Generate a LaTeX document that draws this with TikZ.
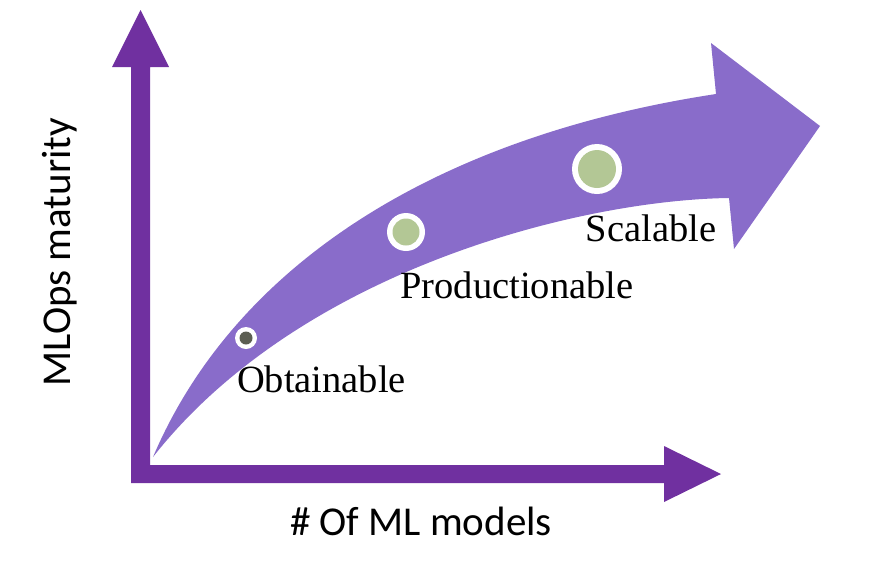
\documentclass[tikz,border=0pt]{standalone}
\usepackage{fontspec}
\setmainfont{Liberation Serif}
\newfontfamily\calib{Carlito}
\definecolor{axispurple}{HTML}{7030A0}
\definecolor{bandpurple}{HTML}{896CCA}
\definecolor{dotgreen}{HTML}{B3C795}
\definecolor{dotdark}{HTML}{5C5E52}
\begin{document}
\begin{tikzpicture}[x=1pt,y=-1pt,
  stagelabel/.style={inner sep=0pt, anchor=base, font=\fontsize{38.5}{40}\selectfont},
  axislabel/.style={inner sep=0pt, anchor=base, font=\calib\fontsize{41}{44}\selectfont},
  ring/.style={circle, fill=white, inner sep=0pt},
  core/.style={circle, inner sep=0pt}]
\useasboundingbox (0,0) rectangle (882,582);
% curved growth arrow
\fill[bandpurple] (153,457) .. controls (236,262) and (440,136) .. (716,94)
  -- (711,43) -- (820,126) -- (734,249) -- (729,198)
  .. controls (580,200) and (300,270) .. (153,457) -- cycle;
% axes
\fill[axispurple] (131,483) -- (131,67) -- (112,67) -- (140.5,10) -- (169,67)
  -- (150,67) -- (150,465) -- (664,465) -- (664,446) -- (721,474)
  -- (664,502) -- (664,483) -- cycle;
% stage markers
\node[ring, minimum size=22pt] (o1) at (246,338) {};
\node[core, fill=dotdark, minimum size=13pt] (o2) at (o1) {};
\node[ring, minimum size=38pt] (p1) at (406,232) {};
\node[core, fill=dotgreen, minimum size=27pt] (p2) at (p1) {};
\node[ring, minimum size=50pt] (s1) at (597,169) {};
\node[core, fill=dotgreen, minimum size=38pt] (s2) at (s1) {};
% labels
\node[stagelabel] (obt) at (321.5,392) {Obtainable};
\node[stagelabel] (prod) at (517,298) {Productionable};
\node[stagelabel] (scal) at (651,241) {Scalable};
\node[axislabel] (xl) at (421,535) {\# Of ML models};
\node[axislabel, rotate=90] (yl) at (70,252) {MLOps maturity};
\end{tikzpicture}
\end{document}
